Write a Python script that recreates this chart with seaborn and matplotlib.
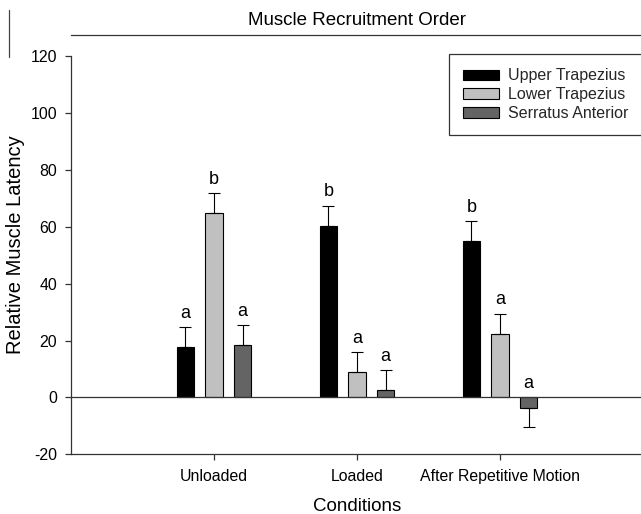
import matplotlib
matplotlib.use("Agg")
import matplotlib.pyplot as plt
from matplotlib.patches import Patch
from matplotlib.lines import Line2D
from matplotlib.container import BarContainer
import pandas as pd
import seaborn as sns

# ---- data ----
conditions = ["Unloaded", "Loaded", "After Repetitive Motion"]
muscles = ["Upper Trapezius", "Lower Trapezius", "Serratus Anterior"]
upper_trap = [17.8, 60.3, 54.9]
lower_trap = [64.7, 8.8, 22.4]
serratus = [18.3, 2.5, -3.6]
upper_trap_se = [6.8, 7.0, 7.0]
lower_trap_se = [7.0, 7.0, 6.9]
serratus_se = [7.0, 7.0, 6.9]
upper_trap_sig = ["a", "b", "b"]
lower_trap_sig = ["b", "a", "a"]
serratus_sig = ["a", "a", "a"]
colors = ["#000000", "#c0c0c0", "#646464"]
yticks = [-20, 0, 20, 40, 60, 80, 100, 120]

values = [upper_trap, lower_trap, serratus]
errors = [upper_trap_se, lower_trap_se, serratus_se]
sigs = [upper_trap_sig, lower_trap_sig, serratus_sig]

rows = []
for m, vals in zip(muscles, values):
    for c, v in zip(conditions, vals):
        rows.append({"Condition": c, "Muscle": m, "Latency": v})
df = pd.DataFrame(rows)

sns.set_theme(style="white")
plt.rcParams["font.family"] = ["Liberation Sans", "DejaVu Sans"]
plt.rcParams["axes.unicode_minus"] = False

W, H = 641, 514
fig = plt.figure(figsize=(W / 100, H / 100), dpi=100)
ax = fig.add_axes([71 / W, 1 - 454.3 / H, (643 - 71) / W, (454.3 - 35) / H])

sns.barplot(data=df, x="Condition", y="Latency", hue="Muscle",
            order=conditions, hue_order=muscles, palette=colors,
            width=0.6, gap=0.385, errorbar=None, saturation=1,
            edgecolor="black", linewidth=0.8, ax=ax, legend=False)

bar_containers = [c for c in ax.containers if isinstance(c, BarContainer)]

line_col = "#333333"
for j, cont in enumerate(bar_containers):
    for i, patch in enumerate(cont.patches):
        x = patch.get_x() + patch.get_width() / 2
        h = values[j][i]
        se = errors[j][i]
        if h >= 0:
            yerr = [[0], [se]]
            anchor = h + se
        else:
            yerr = [[se], [0]]
            anchor = 0
        ax.errorbar(x, h, yerr=yerr, fmt="none", ecolor="black",
                    elinewidth=0.8, capsize=4, capthick=0.8, zorder=3)
        ax.annotate(sigs[j][i], (x, anchor), xytext=(0, 7),
                    textcoords="offset points", ha="center", va="baseline",
                    fontsize=13, color="black")

ax.axhline(0, color=line_col, lw=0.9, zorder=4)

ax.set_xlim(-1, 3)
ax.set_ylim(-20, 127.4)
ax.set_yticks(yticks)
ax.set_yticklabels([str(t) for t in yticks])

for s in ["left", "bottom", "top"]:
    ax.spines[s].set_visible(True)
    ax.spines[s].set_color(line_col)
    ax.spines[s].set_linewidth(0.9)
ax.spines["right"].set_visible(False)
ax.spines["left"].set_bounds(-20, 120)

ax.tick_params(axis="both", which="major", direction="out", length=4.5,
               width=0.9, color=line_col, labelsize=11.4, labelcolor="black",
               bottom=True, left=True)
ax.tick_params(axis="y", pad=5.5)
ax.tick_params(axis="x", pad=6)

ax.set_xlabel("Conditions", fontsize=13.5, labelpad=10, color="black")
ax.set_ylabel("Relative Muscle Latency", fontsize=14.5, labelpad=4, color="black")
ax.set_title("Muscle Recruitment Order", fontsize=13.5, pad=7, color="black")

handles = [Patch(facecolor=c, edgecolor="black", linewidth=0.8, label=m)
           for c, m in zip(colors, muscles)]
leg = ax.legend(handles=handles, loc="upper left",
                bbox_to_anchor=(449 / W, 1 - 54 / H),
                bbox_transform=fig.transFigure, borderaxespad=0,
                frameon=True, fancybox=False, framealpha=1,
                edgecolor=line_col, fontsize=11.5, handlelength=2.25,
                handleheight=0.63, handletextpad=0.56, labelspacing=0.24,
                borderpad=0.9)
leg.get_frame().set_linewidth(0.9)

fig.add_artist(Line2D([9 / W, 9 / W], [1 - 10 / H, 1 - 57 / H],
                      color="#444444", lw=0.9))

fig.savefig("out.png", dpi=100)
